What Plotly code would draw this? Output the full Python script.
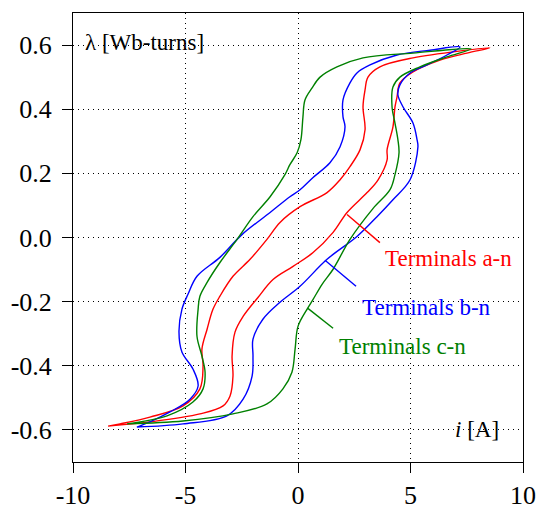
import plotly.graph_objects as go

# ---- data (current i [A], flux linkage lambda [Wb-turns]) ----
# Terminals a-n
a_desc_i = [8.53, 5.11, 3.64, 3.11, 2.98, 2.89, 2.98, 2.76, 2.31, 1.87, 1.29, 0.09, -0.80, -1.38,
            -2.13, -2.89, -3.47, -3.78, -4.04, -4.27, -4.22, -4.36, -5.11, -6.58, -7.91, -8.44]
a_desc_lam = [0.591, 0.560, 0.532, 0.500, 0.460, 0.407, 0.336, 0.274, 0.221, 0.180, 0.140, 0.096, 0.047, -0.006,
              -0.068, -0.121, -0.183, -0.224, -0.286, -0.348, -0.401, -0.472, -0.525, -0.560, -0.581, -0.588]
a_asc_i = [-8.44, -6.58, -4.36, -3.33, -3.02, -2.89, -2.93, -2.80, -2.44, -1.78, -1.11, -0.22, 0.67, 1.56,
           2.18, 3.07, 3.56, 3.96, 3.96, 4.22, 4.31, 4.40, 4.53, 5.11, 6.31, 7.51, 8.53]
a_asc_lam = [-0.588, -0.575, -0.550, -0.525, -0.494, -0.432, -0.370, -0.295, -0.246, -0.187, -0.131, -0.090, -0.047, 0.016,
             0.078, 0.140, 0.180, 0.242, 0.274, 0.345, 0.407, 0.438, 0.482, 0.516, 0.553, 0.575, 0.591]

# Terminals b-n
b_desc_i = [7.20, 5.87, 4.40, 3.20, 2.62, 2.31, 2.00, 2.00, 2.09, 1.87, 1.42, 0.67, 0.09, -0.36, -1.24,
            -2.49, -3.47, -4.49, -4.89, -5.16, -5.29, -5.16, -4.67, -4.44, -4.80, -5.69, -6.58, -7.16]
b_desc_lam = [0.594, 0.584, 0.569, 0.538, 0.513, 0.482, 0.429, 0.376, 0.345, 0.283, 0.233, 0.187, 0.149, 0.127, 0.078,
              0.009, -0.062, -0.121, -0.177, -0.224, -0.295, -0.357, -0.410, -0.463, -0.504, -0.544, -0.575, -0.591]
b_asc_i = [-7.16, -5.11, -3.16, -2.44, -2.04, -2.00, -2.00, -1.56, -0.80, 0.09, 1.29, 2.62, 3.51, 4.22,
           4.98, 5.33, 5.29, 5.11, 4.67, 4.44, 4.53, 4.98, 5.73, 6.62, 7.20]
b_asc_lam = [-0.591, -0.581, -0.556, -0.504, -0.432, -0.370, -0.317, -0.255, -0.202, -0.152, -0.068, 0.003, 0.065, 0.118,
             0.180, 0.283, 0.305, 0.357, 0.407, 0.445, 0.476, 0.513, 0.538, 0.569, 0.594]

# Terminals c-n
c_desc_i = [7.69, 5.11, 2.89, 1.73, 0.98, 0.62, 0.31, 0.22, 0.13, -0.04, -0.36, -0.58, -1.24, -2.00, -2.71,
            -3.47, -4.04, -4.36, -4.44, -4.49, -4.27, -4.13, -4.22, -4.67, -5.82, -7.60]
c_desc_lam = [0.588, 0.575, 0.560, 0.532, 0.500, 0.466, 0.429, 0.376, 0.305, 0.264, 0.227, 0.196, 0.127, 0.065, -0.006,
              -0.078, -0.140, -0.183, -0.224, -0.308, -0.370, -0.420, -0.472, -0.513, -0.556, -0.581]
c_asc_i = [-7.60, -5.11, -2.89, -1.38, -0.67, -0.27, -0.13, 0.00, 0.40, 0.67, 1.07, 1.56, 2.31, 3.33,
           4.09, 4.31, 4.49, 4.44, 4.31, 4.18, 4.22, 4.53, 5.42, 6.62, 7.69]
c_asc_lam = [-0.581, -0.572, -0.550, -0.519, -0.472, -0.420, -0.348, -0.277, -0.224, -0.193, -0.146, -0.099, -0.006, 0.090,
             0.149, 0.196, 0.264, 0.305, 0.357, 0.407, 0.469, 0.500, 0.532, 0.563, 0.588]

series_names = ["Terminals a-n", "Terminals b-n", "Terminals c-n"]
series_colors = ["#ff0000", "#0000ff", "#008000"]

x_ticks = [-10, -5, 0, 5, 10]
y_ticks = [-0.6, -0.4, -0.2, 0.0, 0.2, 0.4, 0.6]
y_tick_text = ["-0.6", "-0.4", "-0.2", "0.0", "0.2", "0.4", "0.6"]

FONT = "Liberation Serif, Times New Roman, serif"

fig = go.Figure()
loops = [
    (a_desc_i + a_asc_i, a_desc_lam + a_asc_lam),
    (b_desc_i + b_asc_i, b_desc_lam + b_asc_lam),
    (c_desc_i + c_asc_i, c_desc_lam + c_asc_lam),
]
for (xs, ys), name, col in zip(loops, series_names, series_colors):
    fig.add_trace(go.Scatter(x=xs, y=ys, mode="lines", name=name,
                             line=dict(color=col, width=1.4, shape="spline", smoothing=1.0),
                             showlegend=False, hoverinfo="skip"))

# leader lines from curves to labels
leaders = [((2.18, 0.072), (3.64, -0.016)),
           ((1.20, -0.071), (2.58, -0.152)),
           ((0.44, -0.221), (1.56, -0.283))]
for ((x0, y0), (x1, y1)), col in zip(leaders, series_colors):
    fig.add_shape(type="line", x0=x0, y0=y0, x1=x1, y1=y1, xref="x", yref="y",
                  line=dict(color=col, width=1.4))

label_pos = [(6.71, -0.065), (5.73, -0.218), (4.64, -0.339)]
for (lx, ly), name, col in zip(label_pos, series_names, series_colors):
    fig.add_annotation(x=lx, y=ly, xref="x", yref="y", text=name, showarrow=False,
                       font=dict(family=FONT, size=23, color=col), xanchor="center", yanchor="middle")

fig.add_annotation(x=-9.55, y=0.607, xref="x", yref="y", text="λ [Wb-turns]", showarrow=False,
                   font=dict(family=FONT, size=23, color="black"), xanchor="left", yanchor="middle")
fig.add_annotation(x=9.0, y=-0.6, xref="x", yref="y", text="<i>i</i> [A]", showarrow=False,
                   font=dict(family=FONT, size=23, color="black"), xanchor="right", yanchor="middle")

axis_common = dict(showline=True, linecolor="black", linewidth=1, mirror=True,
                   ticks="outside", ticklen=10, tickcolor="black", tickwidth=1,
                   showgrid=True, gridcolor="black", gridwidth=1, griddash="1px,4px",
                   zeroline=False, automargin=False,
                   tickfont=dict(family=FONT, size=26, color="black"))

fig.update_xaxes(range=[-10, 10], tickvals=x_ticks, ticktext=[str(v) for v in x_ticks], **axis_common)
fig.update_yaxes(range=[-0.7, 0.7], tickvals=y_ticks, ticktext=y_tick_text,
                 ticklabelstandoff=5, **axis_common)

fig.update_layout(width=538, height=508, template="none",
                  margin=dict(l=73, r=15, t=13, b=46),
                  paper_bgcolor="white", plot_bgcolor="white", showlegend=False)

fig.write_html("out.html")
